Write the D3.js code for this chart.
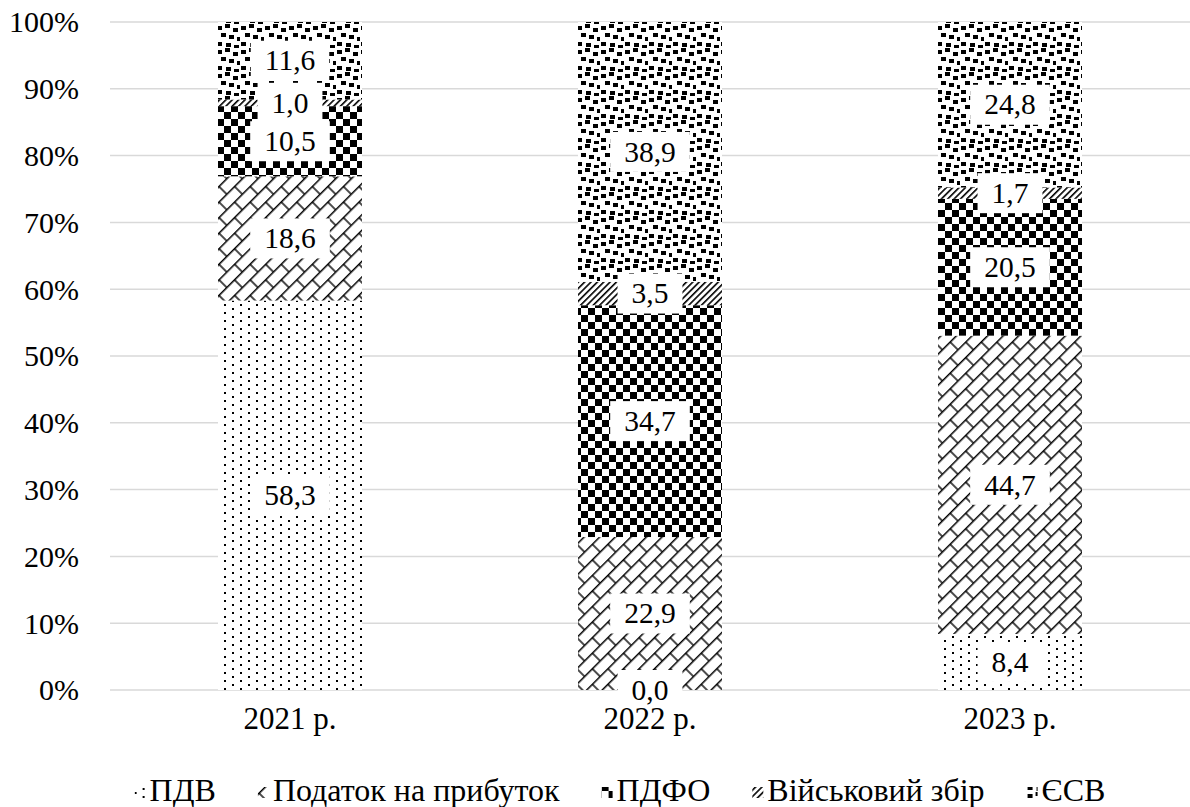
<!DOCTYPE html>
<html><head><meta charset="utf-8">
<script src="https://cdn.jsdelivr.net/npm/d3@7"></script>
<style>
html,body{margin:0;padding:0;background:#fff;}
svg{display:block;}
</style></head>
<body>
<svg id="chart" width="1190" height="807"></svg>
<script>
// ---- data ----
const categories = ["2021 р.", "2022 р.", "2023 р."];
const seriesNames = ["ПДВ", "Податок на прибуток", "ПДФО", "Військовий збір", "ЄСВ"];
const pdv      = [58.3, 0.0, 8.4];
const profit   = [18.6, 22.9, 44.7];
const pdfo     = [10.5, 34.7, 20.5];
const military = [1.0, 3.5, 1.7];
const esv      = [11.6, 38.9, 24.8];
const yTicks   = [0, 0.1, 0.2, 0.3, 0.4, 0.5, 0.6, 0.7, 0.8, 0.9, 1.0];

const seriesValues = [pdv, profit, pdfo, military, esv];
const patternIds = ["pDots", "pShingle", "pChecker", "pDiag", "pConfetti"];

const FF = "'Liberation Serif'";
const svg = d3.select("#chart").attr("font-family", FF);

// ---- patterns ----
const defs = svg.append("defs");
{
  const p = defs.append("pattern").attr("id","pDots").attr("patternUnits","userSpaceOnUse")
    .attr("width",16).attr("height",8);
  p.append("rect").attr("width",16).attr("height",8).attr("fill","#fff");
  p.append("rect").attr("x",0).attr("y",0).attr("width",2).attr("height",2).attr("fill","#000");
  p.append("rect").attr("x",8).attr("y",4).attr("width",2).attr("height",2).attr("fill","#000");
}
{
  const p = defs.append("pattern").attr("id","pShingle").attr("patternUnits","userSpaceOnUse")
    .attr("width",22).attr("height",22).attr("patternTransform","rotate(-45)");
  p.append("rect").attr("width",22).attr("height",22).attr("fill","#fff");
  p.append("path").attr("d","M0,0.75H22M0,11.75H22M1,0V11M12,11V22")
    .attr("stroke","#000").attr("stroke-width",1.4).attr("fill","none");
}
{
  const p = defs.append("pattern").attr("id","pChecker").attr("patternUnits","userSpaceOnUse")
    .attr("width",14).attr("height",14);
  p.append("rect").attr("width",14).attr("height",14).attr("fill","#fff");
  p.append("rect").attr("x",0).attr("y",0).attr("width",7).attr("height",7).attr("fill","#000");
  p.append("rect").attr("x",7).attr("y",7).attr("width",7).attr("height",7).attr("fill","#000");
}
{
  const p = defs.append("pattern").attr("id","pDiag").attr("patternUnits","userSpaceOnUse")
    .attr("width",4.5).attr("height",4.5).attr("patternTransform","rotate(45)");
  p.append("rect").attr("width",4.5).attr("height",4.5).attr("fill","#fff");
  p.append("rect").attr("x",0).attr("y",0).attr("width",1.6).attr("height",4.5).attr("fill","#000");
}
{
  const p = defs.append("pattern").attr("id","pConfetti").attr("patternUnits","userSpaceOnUse")
    .attr("width",24).attr("height",24);
  p.append("rect").attr("width",24).attr("height",24).attr("fill","#fff");
  const sq = [[1,2],[9,0],[17,4],[5,9],[13,11],[21,13],[1,18],[10,19],[18,21]];
  sq.forEach(([x,y])=>p.append("rect").attr("x",x).attr("y",y).attr("width",5).attr("height",4).attr("fill","#000"));
}

// ---- scales ----
const plotLeft = 110, plotRight = 1190, plotTop = 22, plotBottom = 690;
const x = d3.scaleBand().domain(categories).range([plotLeft, plotRight]).paddingInner(0.6).paddingOuter(0.3);
const y = d3.scaleLinear().domain([0,1]).range([plotBottom, plotTop]);

// gridlines
svg.append("g").selectAll("line").data(yTicks).join("line")
  .attr("x1", plotLeft).attr("x2", plotRight)
  .attr("y1", d=>y(d)).attr("y2", d=>y(d))
  .attr("stroke","#d9d9d9").attr("stroke-width",1.5);

// y axis labels
const yAxis = d3.axisLeft(y).tickValues(yTicks).tickFormat(d3.format(".0%")).tickSize(0).tickPadding(0);
const gy = svg.append("g").attr("transform","translate(79,0)").call(yAxis);
gy.attr("font-family", FF).attr("font-size", 30);
gy.select(".domain").remove();
gy.selectAll("text").attr("fill","#000").attr("dy","0.33em");

// ---- stack ----
const rows = categories.map((c,i)=>{
  const o = {cat:c};
  const tot = d3.sum(seriesValues, s=>s[i]);
  seriesNames.forEach((n,k)=>{ o[n] = seriesValues[k][i]/tot; o[n+"_raw"] = seriesValues[k][i]; });
  return o;
});
const stacked = d3.stack().keys(seriesNames)(rows);

const barsG = svg.append("g");
stacked.forEach((layer,k)=>{
  barsG.append("g").selectAll("rect").data(layer).join("rect")
    .attr("x", d=>x(d.data.cat)).attr("width", x.bandwidth())
    .attr("y", d=>y(d[1])).attr("height", d=>Math.max(0, y(d[0])-y(d[1])))
    .attr("fill", `url(#${patternIds[k]})`);
});

// ---- labels ----
const fmt = v => v.toFixed(1).replace(".", ",");
const labG = svg.append("g").attr("font-size",29.5);
stacked.forEach((layer,k)=>{
  layer.forEach(d=>{
    const cx = x(d.data.cat) + x.bandwidth()/2;
    const cy = y((d[0]+d[1])/2);
    const g = labG.append("g");
    const t = g.append("text").attr("x",cx).attr("y",cy).attr("text-anchor","middle")
      .attr("dy","0.33em").text(fmt(d.data[seriesNames[k]+"_raw"]));
    const w = t.node().getComputedTextLength();
    g.insert("rect","text").attr("x",cx-w/2-14).attr("y",cy-20).attr("width",w+28).attr("height",40).attr("fill","#fff");
  });
});

// x axis labels
const xAxis = d3.axisBottom(x).tickSize(0).tickPadding(0);
const gx = svg.append("g").attr("transform","translate(0,708)").call(xAxis);
gx.attr("font-family", FF).attr("font-size", 31);
gx.select(".domain").remove();
gx.selectAll("text").attr("fill","#000").attr("dy","0.68em");

// ---- legend ----
const legend = svg.append("g").attr("font-size",32);
const sw = 11, swGap = 4, itemGap = 42, legBase = 801;
const items = seriesNames.map((n,k)=>{
  const g = legend.append("g");
  g.append("rect").attr("x",0).attr("y",legBase-14).attr("width",sw).attr("height",sw).attr("fill",`url(#${patternIds[k]})`);
  const t = g.append("text").attr("x",sw+swGap).attr("y",legBase).text(n);
  return {g, w: sw+swGap+t.node().getComputedTextLength()};
});
const totalW = d3.sum(items, d=>d.w) + itemGap*(items.length-1);
let cur = 620 - totalW/2;
items.forEach(it=>{ it.g.attr("transform",`translate(${cur},0)`); cur += it.w + itemGap; });
</script>
</body></html>
